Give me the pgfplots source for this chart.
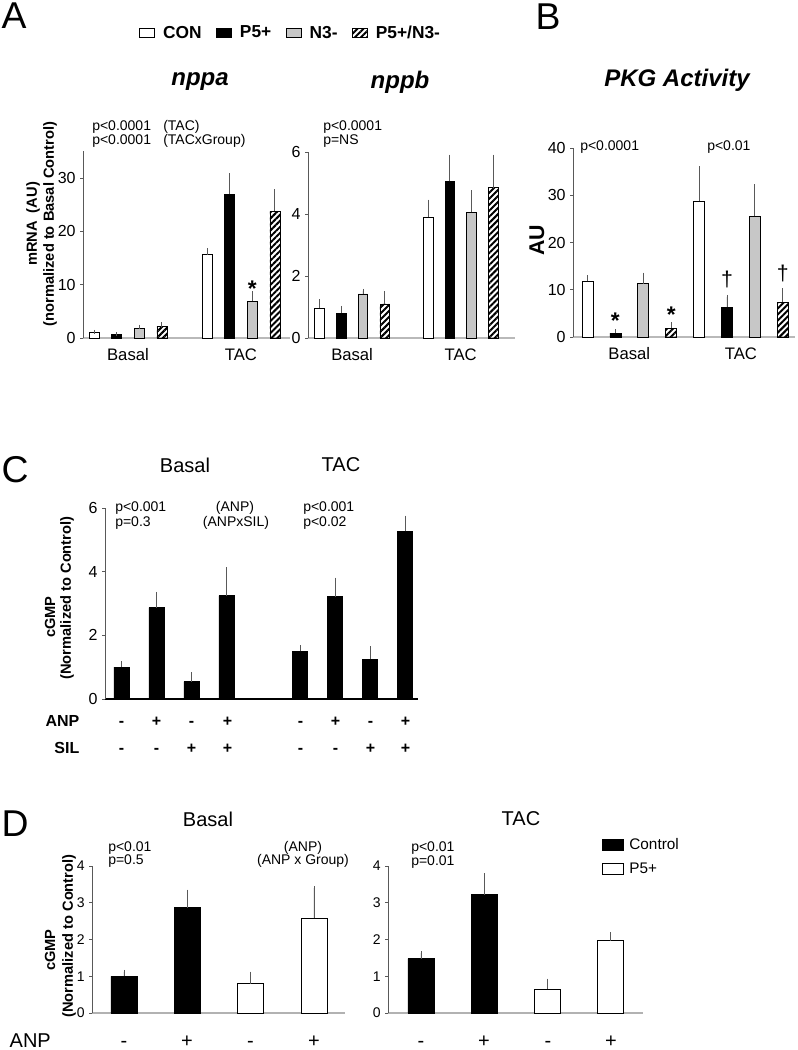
\documentclass[border=0pt]{standalone}
\usepackage{fontspec}
\setmainfont{Liberation Sans}
\usepackage{pgfplots}
\pgfplotsset{compat=1.18}
\usetikzlibrary{patterns.meta}

\definecolor{ngray}{gray}{0.78}
\definecolor{ebar}{gray}{0.35}
\newcommand\fs[2]{\fontsize{#1}{#2}\selectfont}

\pgfplotsset{
  panel/.style={
    scale only axis, clip=false,
    axis lines*=left,
    axis line style={-, ebar, line width=0.6pt},
    ymin=0, ybar,
    tick align=outside, major tick length=2pt,
    tick style={ebar, line width=0.5pt},
    xtick style={draw=none},
    yticklabel style={font=\fs{12}{14}},
    xticklabel style={font=\fs{12.5}{14}, yshift=-2.5pt},
    /pgf/number format/assume math mode=true,
    error bars/y dir=plus, error bars/y explicit,
    error bars/error bar style={ebar, line width=0.6pt},
    error bars/error mark options={ebar, line width=0.6pt, mark size=1.5pt},
  },
  conf/.style={fill=white, draw=black, line width=0.5pt},
  p5f/.style={fill=black, draw=black, line width=0.5pt},
  n3f/.style={fill=ngray, draw=black, line width=0.5pt},
  hatf/.style={draw=black, line width=0.5pt,
    pattern={Lines[angle=45, distance=3.2pt, line width=1.5pt]}, pattern color=black},
  swatch/.style={legend image code/.code={\draw[##1] (0pt,-3.4pt) rectangle (11.25pt,3.4pt);}},
  swatchD/.style={legend image code/.code={\draw[##1] (0pt,-4.1pt) rectangle (15.75pt,4.1pt);}},
}

\begin{document}
\begin{tikzpicture}[x=0.75pt, y=-0.75pt]
\path[use as bounding box] (0,0) rectangle (797,1050);
\coordinate (pa) at (83,338);
\coordinate (pb) at (308,338);
\coordinate (pc) at (573,337);
\coordinate (pd) at (105,699);
\coordinate (pe) at (92,1013);
\coordinate (pf) at (388,1013);

% ---------------- A: nppa
\begin{axis}[panel, at={(pa)}, anchor=south west,
  width=155.25pt, height=140pt,
  xmin=-0.49, xmax=8.67, ymax=35, ytick={0,10,20,30},
  xtick={1.5,6.5}, xticklabels={Basal,TAC},
  x axis line style={gray!55, line width=1.6pt},
  bar width=7.5pt,
  legend columns=4,
  legend style={draw=none, fill=none, at={(1.005,1.634)}, anchor=center,
    font=\bfseries\fs{13}{15},
    /tikz/every odd column/.append style={column sep=4pt},
    /tikz/every even column/.append style={column sep=9pt}},
]
\addlegendimage{swatch, conf}\addlegendentry{CON}
\addlegendimage{swatch, p5f}\addlegendentry{P5+}
\addlegendimage{swatch, n3f}\addlegendentry{N3-}
\addlegendimage{swatch, hatf}\addlegendentry{P5+/N3-}
\addplot[conf, bar shift=0pt] coordinates {(0,1.0) +- (0,0.15) (5,15.6) +- (0,0.9)};
\addplot[p5f, bar shift=0pt] coordinates {(1,0.6) +- (0,0.1) (6,27.0) +- (0,3.5)};
\addplot[n3f, bar shift=0pt] coordinates {(2,1.75) +- (0,0.4) (7,6.9) +- (0,1.5)};
\addplot[hatf, bar shift=0pt] coordinates {(3,2.15) +- (0,0.4) (8,23.8) +- (0,3.7)};
\node[anchor=base, font=\bfseries\fs{17}{17}] at (axis cs:7,7.7) {*};
\end{axis}

% ---------------- A: nppb
\begin{axis}[panel, at={(pb)}, anchor=south west,
  width=155.25pt, height=139.5pt,
  xmin=-0.53, xmax=9.0, ymax=6, ytick={0,2,4,6},
  xtick={1.5,6.5}, xticklabels={Basal,TAC},
  x axis line style={gray!55, line width=1.6pt},
  bar width=7.1pt,
]
\addplot[conf, bar shift=0pt] coordinates {(0,0.97) +- (0,0.22) (5,3.9) +- (0,0.5)};
\addplot[p5f, bar shift=0pt] coordinates {(1,0.8) +- (0,0.17) (6,5.05) +- (0,0.8)};
\addplot[n3f, bar shift=0pt] coordinates {(2,1.42) +- (0,0.1) (7,4.05) +- (0,0.65)};
\addplot[hatf, bar shift=0pt] coordinates {(3,1.1) +- (0,0.35) (8,4.85) +- (0,1.0)};
\end{axis}

% ---------------- B: PKG activity
\begin{axis}[panel, at={(pc)}, anchor=south west,
  width=166.5pt, height=141.75pt,
  xmin=-0.52, xmax=7.44, ymax=40, ytick={0,10,20,30,40},
  xtick={1.5,5.5}, xticklabels={Basal,TAC},
  x axis line style={gray!55, line width=1.6pt},
  bar width=8.25pt,
]
\addplot[conf, bar shift=0pt] coordinates {(0,11.8) +- (0,0.8) (4,28.7) +- (0,7.0)};
\addplot[p5f, bar shift=0pt] coordinates {(1,0.8) +- (0,0.4) (5,6.3) +- (0,2.2)};
\addplot[n3f, bar shift=0pt] coordinates {(2,11.3) +- (0,1.9) (6,25.6) +- (0,6.3)};
\addplot[hatf, bar shift=0pt] coordinates {(3,1.9) +- (0,0.8) (7,7.4) +- (0,2.5)};
\node[anchor=base, font=\bfseries\fs{17}{17}] at (axis cs:1,1.9) {*};
\node[anchor=base, font=\bfseries\fs{17}{17}] at (axis cs:3,3.0) {*};
\node[anchor=base, font=\fs{16}{16}] at (axis cs:5,10.6) {†};
\node[anchor=base, font=\fs{16}{16}] at (axis cs:7,12.0) {†};
\end{axis}

% ---------------- C: cGMP, ANP x SIL
\begin{axis}[panel, at={(pd)}, anchor=south west,
  width=234.75pt, height=143.25pt,
  xmin=-0.47, xmax=8.47, ymax=6, ytick={0,2,4,6},
  xtick=\empty,
  x axis line style={black, line width=0.8pt},
  bar width=11.25pt,
]
\addplot[p5f, bar shift=0pt] coordinates {
  (0,1.0) +- (0,0.13) (1,2.87) +- (0,0.43) (2,0.55) +- (0,0.22) (3,3.25) +- (0,0.83)
  (5.1,1.5) +- (0,0.12) (6.1,3.22) +- (0,0.53) (7.1,1.25) +- (0,0.35) (8.1,5.27) +- (0,0.43)};
\end{axis}

% ---------------- D: Basal
\begin{axis}[panel, at={(pe)}, anchor=south west,
  width=189.75pt, height=110.25pt,
  xmin=-0.505, xmax=3.49, ymax=4, ytick={0,1,2,3,4},
  yticklabel style={font=\fs{10.5}{12}},
  xtick=\empty,
  x axis line style={gray!60, line width=1.2pt},
  bar width=19.5pt,
]
\addplot[p5f, bar shift=0pt] coordinates {(0,1.0) +- (0,0.12) (1,2.87) +- (0,0.43)};
\addplot[conf, bar shift=0pt] coordinates {(2,0.8) +- (0,0.27) (3,2.58) +- (0,0.82)};
\end{axis}

% ---------------- D: TAC
\begin{axis}[panel, at={(pf)}, anchor=south west,
  width=191.25pt, height=110.25pt,
  xmin=-0.52, xmax=3.51, ymax=4, ytick={0,1,2,3,4},
  yticklabel style={font=\fs{10.5}{12}},
  xtick=\empty,
  x axis line style={gray!60, line width=1.2pt},
  bar width=19.5pt,
  legend style={draw=none, fill=none, at={(0.824,1.224)}, anchor=north west,
    font=\fs{11.5}{13}, row sep=4pt, legend cell align=left,
    /tikz/every odd column/.append style={column sep=2pt}},
]
\addlegendimage{swatchD, p5f}\addlegendentry{Control}
\addlegendimage{swatchD, conf}\addlegendentry{P5+}
\addplot[p5f, bar shift=0pt] coordinates {(0,1.48) +- (0,0.15) (1,3.22) +- (0,0.53)};
\addplot[conf, bar shift=0pt] coordinates {(2,0.65) +- (0,0.23) (3,1.97) +- (0,0.18)};
\end{axis}

% ---------------- labels and annotations
\node[font=\fs{28}{30}] at (14,16) {A};
\node[font=\fs{28}{30}] at (548,17) {B};
\node[font=\fs{28}{30}] at (15,470) {C};
\node[font=\fs{28}{30}] at (15,824) {D};

\node[font=\bfseries\itshape\fs{18}{20}] at (200,82) {nppa};
\node[font=\bfseries\itshape\fs{18}{20}] at (400,82) {nppb};
\node[font=\bfseries\itshape\fs{18}{20}] at (677,80) {PKG Activity};

\begin{scope}[every node/.style={font=\fs{10.5}{12}, anchor=base west, inner sep=0pt}]
\node at (92,130) {p<0.0001};
\node at (92,144) {p<0.0001};
\node at (163,130) {(TAC)};
\node at (163,144) {(TACxGroup)};
\node at (323,130) {p<0.0001};
\node at (323,144) {p=NS};
\node at (580,150) {p<0.0001};
\node at (707,150) {p<0.01};
\node at (115,511) {p<0.001};
\node at (115,526) {p=0.3};
\node[anchor=base] at (235,511) {(ANP)};
\node[anchor=base] at (236,526) {(ANPxSIL)};
\node at (303,511) {p<0.001};
\node at (303,526) {p<0.02};
\node at (108,851) {p<0.01};
\node at (108,864) {p=0.5};
\node[anchor=base] at (303,851) {(ANP)};
\node[anchor=base] at (303,864) {(ANP x Group)};
\node at (411,851) {p<0.01};
\node at (411,865) {p=0.01};
\end{scope}

\begin{scope}[every node/.style={font=\bfseries\fs{11}{13}, rotate=90}]
\node at (33,224) {mRNA\ \ (AU)};
\node at (50,224) {(normalized to Basal Control)};
\node at (50,617) {cGMP};
\node at (67,598) {(Normalized to Control)};
\node at (50,950) {cGMP};
\node at (69,936) {(Normalized to Control)};
\end{scope}
\node[font=\bfseries\fs{16}{18}, rotate=90] at (537,240) {AU};

\node[font=\fs{15}{18}] at (185,465) {Basal};
\node[font=\fs{15}{18}] at (341,465) {TAC};
\node[font=\fs{15}{18}] at (208,819) {Basal};
\node[font=\fs{15}{18}] at (521,819) {TAC};

% treatment rows under panel C
\node[font=\bfseries\fs{12}{14}, anchor=east, text height=1.5ex, text depth=0.25ex] at (84,722) {ANP};
\node[font=\bfseries\fs{12}{14}, anchor=east, text height=1.5ex, text depth=0.25ex] at (84,749) {SIL};
\foreach \x/\a/\s in {121.5/-/-, 156.5/+/-, 191.5/-/+, 227.5/+/+,
                      300.5/-/-, 335.5/+/-, 370.5/-/+, 405.5/+/+} {
  \node[font=\bfseries\fs{12}{14}, text height=1.5ex, text depth=0.25ex] at (\x,722) {\a};
  \node[font=\bfseries\fs{12}{14}, text height=1.5ex, text depth=0.25ex] at (\x,749) {\s};
}
% treatment row under panel D
\node[font=\fs{15}{17}, anchor=west, text height=1.5ex, text depth=0.25ex] at (5,1043) {ANP};
\foreach \x/\a in {124/-, 187/+, 250.5/-, 314/+, 421/-, 484/+, 548/-, 611/+} {
  \node[font=\fs{15}{17}, text height=1.5ex, text depth=0.25ex] at (\x,1043) {\a};
}
\end{tikzpicture}
\end{document}
